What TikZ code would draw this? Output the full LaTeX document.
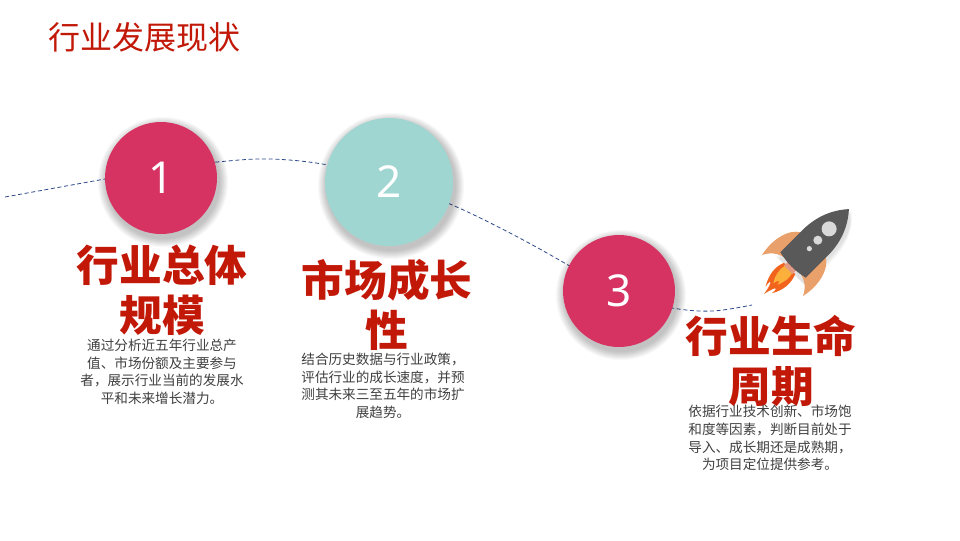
\documentclass[tikz,border=0pt]{standalone}
\usepackage{fontspec}
\setmainfont{Noto Sans}
\newfontfamily\cjk{Noto Sans CJK SC}
\definecolor{cpink}{HTML}{D63262}
\definecolor{cteal}{HTML}{A0D6D1}
\definecolor{cred}{HTML}{C21808}
\definecolor{cgray}{HTML}{404040}
\definecolor{cnavy}{HTML}{2E4A8B}
\definecolor{rbody}{HTML}{595959}
\definecolor{rport}{HTML}{D9D9D9}
\definecolor{rfin}{HTML}{E9A06A}
\definecolor{rnoz}{HTML}{E39A85}
\definecolor{rflame}{HTML}{F2641D}
\definecolor{ryellow}{HTML}{FBB03B}
\tikzset{
  bigdot/.style={circle, minimum size=#1, inner sep=0pt, text=white,
    font=\fontsize{33}{33}\selectfont},
  softshade/.style={black, opacity=0.028},
  heading/.style={text=cred, align=center, font=\cjk\bfseries\fontsize{32}{37.5}\selectfont, inner sep=0pt},
  bodytxt/.style={text=cgray, align=center, font=\cjk\fontsize{10.2}{13.2}\selectfont, inner sep=0pt},
  trail/.style={cnavy, line width=0.6pt, dash pattern=on 3pt off 2pt},
}
\begin{document}
\begin{tikzpicture}[x=0.75pt,y=-0.75pt]
\useasboundingbox (0,0) rectangle (960,540);
\fill[white] (0,0) rectangle (960,540);
% title
\node[text=cred, font=\cjk\fontsize{24}{24}\selectfont, anchor=west, inner sep=0pt] (title) at (48,37) {行业发展现状};
% trail
\coordinate (t0) at (5,197);
\coordinate (t1) at (105,179);
\coordinate (t2) at (217,162);
\coordinate (t3) at (270,159);
\coordinate (t4) at (328,165);
\coordinate (t5) at (450,204);
\coordinate (t6) at (510,233);
\coordinate (t7) at (568,265);
\coordinate (t8) at (619,296);
\coordinate (t9) at (672,308);
\coordinate (t10) at (712,311);
\coordinate (t11) at (752,305);
\draw[trail] plot[smooth, tension=0.6] coordinates {(t0) (t1) (161,169) (t2) (t3) (t4) (389,181) (t5) (t6) (t7) (t8) (t9) (t10) (t11)};
% soft shadows
\foreach \cx/\cy/\r in {161/178/56, 389/182/64, 619/291/56}{
  \foreach \k in {0,...,8}{
    \fill[softshade] (\cx+2,\cy+4) circle ({\r+9-\k});
  }
}
% circles
\node[bigdot=84pt, fill=cpink] (c1) at (161,178) {1};
\node[bigdot=96pt, fill=cteal] (c2) at (389,182) {2};
\node[bigdot=84pt, fill=cpink] (c3) at (619,291) {3};
% headings
\node[heading] (h1) at (162,290) {行业总体\\规模};
\node[heading] (h2) at (387,305) {市场成长\\性};
\node[heading] (h3) at (771,361) {行业生命\\周期};
% body texts
\node[bodytxt] (b1) at (162,372) {通过分析近五年行业总产\\值、市场份额及主要参与\\者，展示行业当前的发展水\\平和未来增长潜力。};
\node[bodytxt] (b2) at (383,386) {结合历史数据与行业政策，\\评估行业的成长速度，并预\\测其未来三至五年的市场扩\\展趋势。};
\node[bodytxt] (b3) at (770,438) {依据行业技术创新、市场饱\\和度等因素，判断目前处于\\导入、成长期还是成熟期，\\为项目定位提供参考。};
% rocket
\begin{scope}[shift={(815,243)}, rotate=-45]
  % soft shadow
  \foreach \k in {1,...,5}{
    \fill[black, opacity=0.025] (-19+\k,37) -- (-19+\k,2) .. controls (-19+\k,-24) and (-8,-40) .. (4,-49+\k) .. controls (14,-40) and (26-\k,-24) .. (26-\k,2) -- (26-\k,37) -- cycle;
  }
  % fins
  \fill[rfin] (-17,2) .. controls (-29,9) and (-33,28) .. (-29,46) .. controls (-25,38) and (-20,34) .. (-12,32) -- cycle;
  \fill[rfin] (17,2) .. controls (29,9) and (33,28) .. (29,46) .. controls (25,38) and (20,34) .. (12,32) -- cycle;
  % flame
  \fill[rflame] (-8,36) .. controls (-12,46) and (-10,56) .. (-4,66) .. controls (-6,58) and (-3,54) .. (0,72) .. controls (3,58) and (6,56) .. (5,66) .. controls (11,56) and (12,46) .. (8,36) -- cycle;
  \fill[ryellow] (-5,37) .. controls (-7,45) and (-5,52) .. (-1,58) .. controls (0,52) and (2,50) .. (3,56) .. controls (6,49) and (7,43) .. (5,37) -- cycle;
  % nozzle
  \fill[rnoz] (-6,29) rectangle (6,38);
  % body
  \fill[rbody] (-18,31) -- (-18,0) .. controls (-18,-24) and (-8,-39) .. (0,-48) .. controls (8,-39) and (18,-24) .. (18,0) -- (18,31) .. controls (6,34) and (-6,34) .. (-18,31) -- cycle;
  % portholes
  \fill[rport] (0,-20) circle (7.5);
  \fill[rport] (0,-4) circle (4.5);
  \fill[rport] (0,8) circle (2.6);
\end{scope}
\end{tikzpicture}
\end{document}
